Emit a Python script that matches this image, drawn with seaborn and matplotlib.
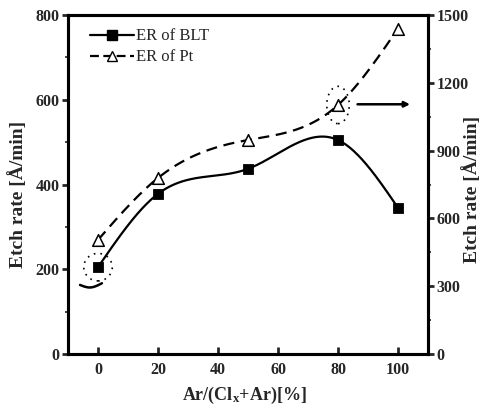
import numpy as np
import pandas as pd
import matplotlib
matplotlib.use("Agg")
import matplotlib.pyplot as plt
import seaborn as sns
from matplotlib.lines import Line2D
from matplotlib.patches import Ellipse

# Ar fraction in the Cl2/Ar gas mixture [%]
ar_ratio = [0, 20, 50, 80, 100]
# Etch rate of BLT film [A/min] (left axis)
er_blt = [205, 378, 437, 505, 345]
# Etch rate of Pt [A/min] (right axis)
er_pt = [505, 779, 947, 1102, 1440]
# short lead-in arc of the BLT fit curve
blt_lead_x = [-6, -2.7, 1.3]
blt_lead_y = [163, 157, 167]

left_ticks = [0, 200, 400, 600, 800]
right_ticks = [0, 300, 600, 900, 1200, 1500]
x_ticks = [0, 20, 40, 60, 80, 100]


def natural_spline(x, y, n=300):
    """Smooth natural cubic spline through the given knots."""
    x = np.asarray(x, float)
    y = np.asarray(y, float)
    k = len(x)
    h = np.diff(x)
    A = np.zeros((k, k))
    b = np.zeros(k)
    A[0, 0] = A[-1, -1] = 1.0
    for i in range(1, k - 1):
        A[i, i - 1] = h[i - 1]
        A[i, i] = 2 * (h[i - 1] + h[i])
        A[i, i + 1] = h[i]
        b[i] = 6 * ((y[i + 1] - y[i]) / h[i] - (y[i] - y[i - 1]) / h[i - 1])
    M = np.linalg.solve(A, b)
    xs = np.linspace(x[0], x[-1], n)
    idx = np.clip(np.searchsorted(x, xs) - 1, 0, k - 2)
    x0, x1 = x[idx], x[idx + 1]
    hh = x1 - x0
    t0, t1 = x1 - xs, xs - x0
    ys = (M[idx] * t0 ** 3 + M[idx + 1] * t1 ** 3) / (6 * hh) \
        + (y[idx] / hh - M[idx] * hh / 6) * t0 \
        + (y[idx + 1] / hh - M[idx + 1] * hh / 6) * t1
    return xs, ys


sns.set_theme(style="white")
plt.rcParams["font.family"] = ["Liberation Serif", "DejaVu Serif"]
plt.rcParams["mathtext.fontset"] = "custom"
plt.rcParams["mathtext.rm"] = "Liberation Serif:bold"
plt.rcParams["mathtext.it"] = "Liberation Serif:bold"
plt.rcParams["mathtext.bf"] = "Liberation Serif:bold"

fig = plt.figure(figsize=(4.8, 4.07), dpi=100)
ax = fig.add_axes([0.1417, 0.1302, 0.75, 0.8329])
ax2 = ax.twinx()

df = pd.DataFrame({"ar": ar_ratio, "blt": er_blt, "pt": er_pt})

# smooth fit curves
bx, by = natural_spline(ar_ratio, er_blt)
px, py = natural_spline(ar_ratio, er_pt)
lx, ly = natural_spline(blt_lead_x, blt_lead_y, 60)

sns.lineplot(x=bx, y=by, ax=ax, color="black", lw=1.6, sort=False, legend=False)
sns.lineplot(x=lx, y=ly, ax=ax, color="black", lw=1.8, sort=False, legend=False)
sns.scatterplot(data=df, x="ar", y="blt", ax=ax, marker="s", s=55,
                color="black", edgecolor="black", zorder=5, legend=False)

sns.lineplot(x=px, y=py, ax=ax2, color="black", lw=1.6, sort=False, legend=False)
ax2.lines[-1].set_dashes((5, 3))
sns.scatterplot(data=df, x="ar", y="pt", ax=ax2, marker="^", s=70,
                facecolor="white", edgecolor="black", linewidth=1.1,
                zorder=5, legend=False)

# axis ranges and ticks
ax.set_xlim(-10, 110)
ax.set_ylim(0, 800)
ax2.set_ylim(0, 1500)
ax.set_xticks(x_ticks)
ax.set_yticks(left_ticks)
ax2.set_yticks(right_ticks)
ax.set_yticks(np.arange(100, 800, 200), minor=True)
ax2.set_yticks(np.arange(150, 1500, 300), minor=True)

tick_font = dict(fontsize=11.5, fontweight="bold")
ax.set_xticklabels([str(v) for v in x_ticks], **tick_font)
ax.set_yticklabels([str(v) for v in left_ticks], **tick_font)
ax2.set_yticklabels([str(v) for v in right_ticks], **tick_font)

ax.tick_params(axis="x", direction="in", length=5, width=2, pad=6, bottom=True)
ax.tick_params(axis="y", which="major", direction="out", length=4, width=2, pad=2, left=True)
ax.tick_params(axis="y", which="minor", direction="out", length=2.5, width=1.2, left=True)
ax2.tick_params(axis="y", which="major", direction="out", length=4, width=2, pad=2, right=True)
ax2.tick_params(axis="y", which="minor", direction="out", length=2.5, width=1.2, right=True)

for a in (ax, ax2):
    for s in a.spines.values():
        s.set_linewidth(2.2)
        s.set_color("black")
        s.set_visible(True)

ax.set_xlabel(r"Ar/(Cl$_{\mathregular{x}}$+Ar)[%]", fontsize=13, fontweight="bold")
ax.xaxis.set_label_coords(0.49, -0.092)
ax.set_ylabel("Etch rate [Å/min]", fontsize=14, fontweight="bold")
ax.yaxis.set_label_coords(-0.115, 0.47)
ax2.set_ylabel("Etch rate [Å/min]", fontsize=14, fontweight="bold", rotation=90)
ax2.yaxis.set_label_coords(1.095, 0.485)

# highlight the points and the axis they belong to
ax.add_patch(Ellipse((0, 205), 9.5, 65, fill=False, ls=(0, (1, 3)), lw=1.2, color="black", zorder=6))
ax2.add_patch(Ellipse((80, 1102), 7.5, 165, fill=False, ls=(0, (1, 3)), lw=1.2, color="black", zorder=6))
ax2.annotate("", xy=(104, 1105), xytext=(86.5, 1105),
             arrowprops=dict(arrowstyle="-|>", lw=1.8, color="black",
                             mutation_scale=8, shrinkA=0, shrinkB=0))

handles = [
    Line2D([], [], color="black", lw=1.6, marker="s", markersize=7),
    Line2D([], [], color="black", lw=1.6, ls=(0, (4, 2)), marker="^", markersize=7,
           markerfacecolor="white", markeredgecolor="black"),
]
ax.legend(handles, ["ER of BLT", "ER of Pt"], loc="upper left",
          bbox_to_anchor=(0.03, 0.995), frameon=False, fontsize=12,
          handlelength=2.6, handletextpad=0.15, labelspacing=0.3, borderaxespad=0.3)

fig.savefig("out.png", dpi=100)
